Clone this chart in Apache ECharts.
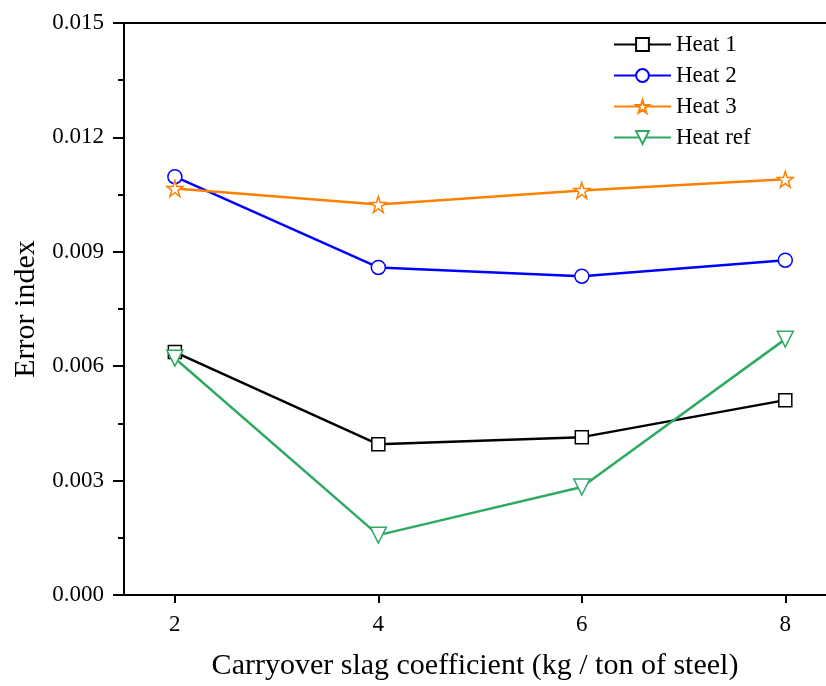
<!DOCTYPE html>
<html>
<head>
<meta charset="utf-8">
<script src="https://cdn.jsdelivr.net/npm/echarts@6/dist/echarts.min.js"></script>
<style>html,body{margin:0;padding:0;background:#fff;}#c{width:826px;height:686px;}</style>
</head>
<body>
<div id="c"></div>
<script>
const xValues = [2, 4, 6, 8];
const heat1 = [0.00637, 0.00395, 0.00414, 0.00511];
const heat2 = [0.01097, 0.00859, 0.00836, 0.00878];
const heat3 = [0.01066, 0.01024, 0.01061, 0.01090];
const heatRef = [0.00621, 0.00157, 0.00283, 0.00671];
const seriesNames = ['Heat 1', 'Heat 2', 'Heat 3', 'Heat ref'];
const xTicks = [2, 4, 6, 8];

const FONT = 'Liberation Serif';
const pairs = arr => xValues.map((x, i) => [x, arr[i]]);

function mk(name, data, color, symbol, size, rot) {
  return {
    name, type: 'line', data: pairs(data),
    symbol, symbolSize: size, symbolRotate: rot || 0,
    lineStyle: { color, width: 2.5 },
    itemStyle: { color: '#fff', borderColor: color, borderWidth: 1.5 },
    emphasis: { disabled: true }
  };
}

const chart = echarts.init(document.getElementById('c'), null, { renderer: 'canvas' });
chart.setOption({
  animation: false,
  backgroundColor: '#fff',
  grid: { left: 124, top: 23, bottom: 91, right: 0, containLabel: false },
  legend: {
    orient: 'vertical', left: 608, top: 28,
    itemWidth: 57, itemHeight: 16, itemGap: 8,
    textStyle: { fontFamily: FONT, fontSize: 23, color: '#000' },
    data: seriesNames
  },
  xAxis: [{
    type: 'value', min: 1.5, max: 8.4,
    axisLine: { show: true, lineStyle: { color: '#000', width: 2 } },
    axisTick: { show: true, length: 8, lineStyle: { color: '#000', width: 2 }, customValues: xTicks },
    axisLabel: { fontFamily: FONT, fontSize: 23, color: '#000', margin: 18, customValues: xTicks },
    splitLine: { show: false },
    name: 'Carryover slag coefficient (kg / ton of steel)',
    nameLocation: 'middle', nameGap: 56,
    nameTextStyle: { fontFamily: FONT, fontSize: 30, color: '#000' }
  }, {
    type: 'value', position: 'top', min: 1.5, max: 8.4,
    axisLine: { show: true, onZero: false, lineStyle: { color: '#000', width: 2 } },
    axisTick: { show: false }, axisLabel: { show: false }, splitLine: { show: false }
  }],
  yAxis: {
    type: 'value', min: 0, max: 0.015, interval: 0.003,
    axisLine: { show: true, lineStyle: { color: '#000', width: 2 } },
    axisTick: { show: true, length: 11, lineStyle: { color: '#000', width: 2 } },
    minorTick: { show: true, splitNumber: 2, length: 6, lineStyle: { color: '#000', width: 2 } },
    axisLabel: { fontFamily: FONT, fontSize: 23, color: '#000', margin: 20, formatter: v => v.toFixed(3) },
    splitLine: { show: false },
    name: 'Error index', nameLocation: 'middle', nameGap: 80,
    nameTextStyle: { fontFamily: FONT, fontSize: 30, color: '#000' }
  },
  series: [
    mk('Heat 1', heat1, '#000000', 'rect', 13),
    mk('Heat 2', heat2, '#0000ff', 'circle', 14),
    mk('Heat 3', heat3, '#ff8000', 'path://M12,0 L14.8,8.6 L24,8.6 L16.6,14 L19.4,22.8 L12,17.4 L4.6,22.8 L7.4,14 L0,8.6 L9.2,8.6 Z', 16),
    mk('Heat ref', heatRef, '#2eaa64', 'triangle', 16, 180)
  ]
});
</script>
</body>
</html>
